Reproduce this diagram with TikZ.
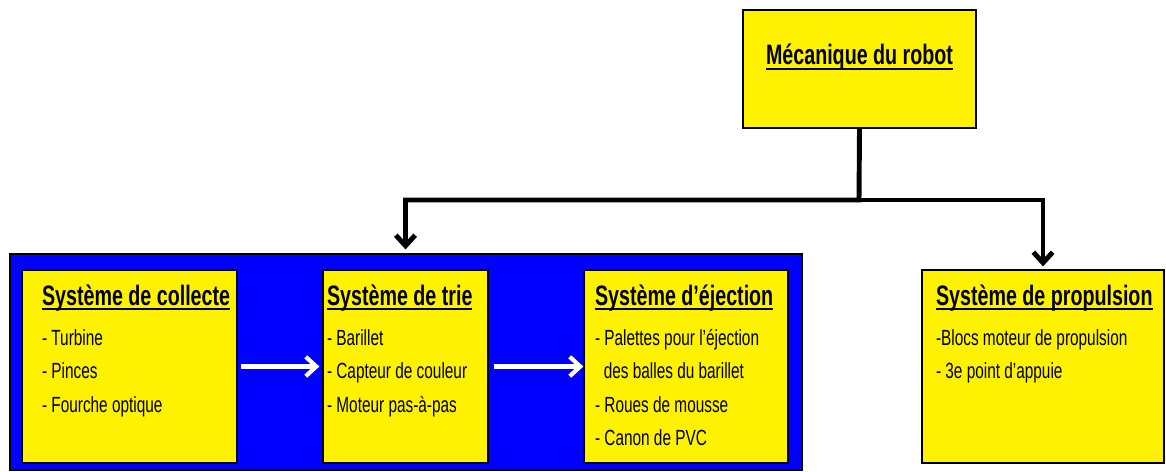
\documentclass[tikz,border=0pt]{standalone}
\usepackage{fontspec}
\setmainfont{Liberation Sans}[FakeStretch=0.7]
\usepackage{tikz}
\usetikzlibrary{arrows.meta}

\tikzstyle{sysbox} = [rectangle, draw=black, fill=yellow, inner sep=0pt,
minimum height=3.86cm, line width=0.7pt]
\tikzstyle{topbox} = [rectangle, draw=black, fill=yellow, inner sep=0pt,
minimum width=4.66cm, minimum height=2.36cm, line width=0.7pt]
\tikzstyle{chain} = [rectangle, draw=black, fill=blue, inner sep=0pt,
minimum width=15.84cm, minimum height=4.32cm, line width=0.7pt]
\tikzstyle{arrow} =
[line width=2.8pt, -{Straight Barb[length=6pt,width=11pt]}]
\tikzstyle{whitearrow} = [arrow, white, line width=2.4pt]

\newcommand{\titleline}[1]{\setbox0\hbox{#1}\rlap{\rule[-2.6pt]{\wd0}{1pt}}\box0}
\newcommand{\boxtitle}[1]{{\fontsize{16}{18}\selectfont\bfseries
\rule{0pt}{0.7cm}\titleline{#1}\par}\vspace{4.5pt}}
\newcommand{\boxtext}[3]{\parbox[c][3.86cm][t]{#1}{\raggedright
\setlength{\leftskip}{#2}\fontsize{12.5}{18.8}\selectfont #3}}

\begin{document}
\begin{tikzpicture}[x=0.02cm, y=-0.02cm]

\useasboundingbox (0,0) rectangle (1166,472);

\node(meca)[topbox] at (859.5,69){\parbox[c][2.36cm][t]{4.66cm}{\centering
\fontsize{16}{18}\selectfont\bfseries\rule{0pt}{1.1cm}\titleline{Mécanique du robot}}};

\node(chaine)[chain] at (406,362){};
\node(collecte)[sysbox, minimum width=4.3cm] at (129.5,366.5){\boxtext{4.3cm}{0.4cm}{%
\boxtitle{Système de collecte}- Turbine\\- Pinces\\- Fourche optique}};
\node(tri)[sysbox, minimum width=3.3cm] at (405.5,366.5){\boxtext{3.3cm}{0.08cm}{%
\boxtitle{Système de trie}- Barillet\\- Capteur de couleur\\- Moteur pas-à-pas}};
\node(ejection)[sysbox, minimum width=4.08cm] at (686,366.5){\boxtext{4.08cm}{0.22cm}{%
\boxtitle{Système d'éjection}- Palettes pour l'éjection\\\hspace*{0.4em}des balles du barillet\\- Roues de mousse\\- Canon de PVC}};
\node(propulsion)[sysbox, minimum width=4.84cm] at (1043,366.5){\boxtext{4.84cm}{0.28cm}{%
\boxtitle{Système de propulsion}-Blocs moteur de propulsion\\- 3e point d'appuie}};

\coordinate(split) at (859,200);
\draw[arrow](meca.south) -- (split) -| ([yshift=0.08cm]chaine.north -| tri.north);
\draw[arrow](split) -| ([yshift=0.06cm]propulsion.north);
\draw[whitearrow]([xshift=0.06cm]collecte.east) -- ([xshift=-0.06cm]tri.west);
\draw[whitearrow]([xshift=0.1cm]tri.east) -- (ejection.west);

\end{tikzpicture}
\end{document}
